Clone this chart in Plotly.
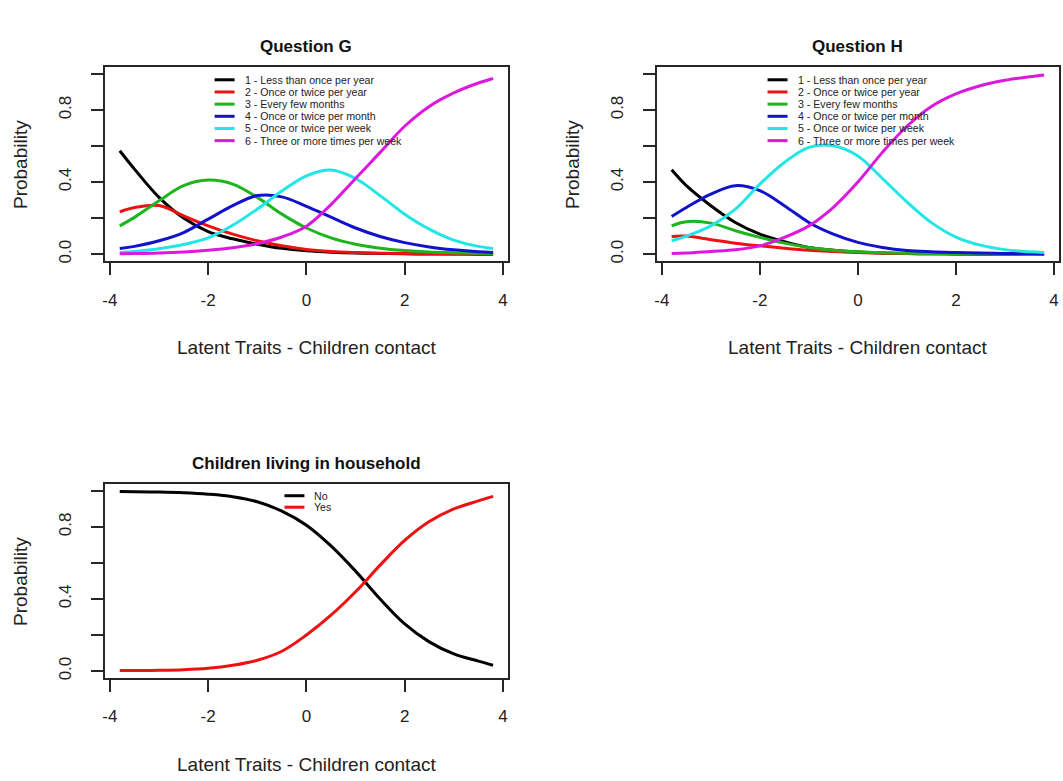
import plotly.graph_objects as go

W, H = 1063, 781

# Latent trait grid (x values)
theta = [-3.8, -3.5, -3.0, -2.5, -2.0, -1.5, -1.0, -0.5, 0.0, 0.5, 1.0, 1.5, 2.0, 2.5, 3.0, 3.5, 3.8]

freq_labels = ["1 - Less than once per year", "2 - Once or twice per year", "3 - Every few months",
               "4 - Once or twice per month", "5 - Once or twice per week", "6 - Three or more times per week"]
freq_colors = ["#000000", "#EE1111", "#1DB51D", "#1212CC", "#22E6E6", "#DD18DD"]

# Question G category probabilities
g_cat1 = [0.574, 0.472, 0.315, 0.200, 0.125, 0.085, 0.055, 0.032, 0.019, 0.011, 0.006, 0.004, 0.002, 0.001, 0.001, 0.000, 0.000]
g_cat2 = [0.235, 0.259, 0.270, 0.213, 0.157, 0.111, 0.074, 0.046, 0.026, 0.015, 0.009, 0.005, 0.003, 0.002, 0.001, 0.001, 0.000]
g_cat3 = [0.157, 0.204, 0.296, 0.380, 0.411, 0.389, 0.315, 0.222, 0.145, 0.090, 0.055, 0.033, 0.020, 0.012, 0.008, 0.005, 0.004]
g_cat4 = [0.031, 0.043, 0.074, 0.120, 0.194, 0.269, 0.325, 0.318, 0.265, 0.205, 0.145, 0.098, 0.064, 0.040, 0.024, 0.013, 0.009]
g_cat5 = [0.009, 0.015, 0.030, 0.053, 0.090, 0.160, 0.250, 0.350, 0.435, 0.467, 0.420, 0.325, 0.222, 0.139, 0.078, 0.043, 0.031]
g_cat6 = [0.002, 0.003, 0.006, 0.012, 0.022, 0.036, 0.058, 0.095, 0.155, 0.275, 0.420, 0.565, 0.710, 0.820, 0.895, 0.950, 0.975]

# Question H category probabilities
h_cat1 = [0.468, 0.380, 0.269, 0.176, 0.111, 0.069, 0.037, 0.022, 0.012, 0.006, 0.003, 0.002, 0.001, 0.000, 0.000, 0.000, 0.000]
h_cat2 = [0.098, 0.100, 0.080, 0.061, 0.046, 0.033, 0.022, 0.015, 0.009, 0.005, 0.003, 0.002, 0.001, 0.001, 0.000, 0.000, 0.000]
h_cat3 = [0.157, 0.180, 0.172, 0.130, 0.093, 0.061, 0.037, 0.022, 0.013, 0.008, 0.005, 0.003, 0.002, 0.001, 0.001, 0.000, 0.000]
h_cat4 = [0.209, 0.259, 0.333, 0.380, 0.352, 0.269, 0.176, 0.111, 0.065, 0.037, 0.020, 0.013, 0.009, 0.006, 0.004, 0.003, 0.002]
h_cat5 = [0.074, 0.100, 0.157, 0.250, 0.389, 0.509, 0.593, 0.602, 0.545, 0.420, 0.290, 0.175, 0.095, 0.050, 0.025, 0.013, 0.009]
h_cat6 = [0.004, 0.006, 0.015, 0.024, 0.046, 0.093, 0.157, 0.260, 0.400, 0.565, 0.710, 0.820, 0.890, 0.935, 0.965, 0.985, 0.995]

# Children living in household
hh_labels = ["No", "Yes"]
hh_colors = ["#000000", "#EE1111"]
hh_no = [0.997, 0.996, 0.994, 0.990, 0.982, 0.968, 0.940, 0.888, 0.810, 0.695, 0.555, 0.400, 0.262, 0.162, 0.095, 0.055, 0.032]
hh_yes = [0.003, 0.003, 0.004, 0.007, 0.015, 0.032, 0.060, 0.110, 0.200, 0.310, 0.440, 0.588, 0.725, 0.830, 0.900, 0.945, 0.970]

x_ticks = [-4, -2, 0, 2, 4]
y_ticks = [0.0, 0.2, 0.4, 0.6, 0.8, 1.0]
y_ticktext = ["0.0", "", "0.4", "", "0.8", ""]

titles = ["Question G", "Question H", "Children living in household"]
x_title = "Latent Traits - Children contact"
y_title = "Probability"

FONT = "Liberation Sans, Arial, sans-serif"
AX = "#262626"


def fx(p):
    return p / W


def fy(p):
    return 1 - p / H


# panel boxes in pixels: (left, right, top, bottom)
boxes = [(103, 507, 67, 262), (656, 1059, 67, 262), (103, 507, 485, 680)]

series = [
    ([g_cat1, g_cat2, g_cat3, g_cat4, g_cat5, g_cat6], freq_labels, freq_colors),
    ([h_cat1, h_cat2, h_cat3, h_cat4, h_cat5, h_cat6], freq_labels, freq_colors),
    ([hh_no, hh_yes], hh_labels, hh_colors),
]

fig = go.Figure()
layout = dict(width=W, height=H, margin=dict(l=0, r=0, t=0, b=0), paper_bgcolor="white",
              plot_bgcolor="white", showlegend=False, font=dict(family=FONT, color="#222"))

annotations = []
shapes = []

for i, (box, (ys, labels, cols)) in enumerate(zip(boxes, series)):
    n = "" if i == 0 else str(i + 1)
    xa, ya = "x" + n, "y" + n
    for yv, lab, c in zip(ys, labels, cols):
        fig.add_trace(go.Scatter(x=theta, y=yv, mode="lines", name=lab, xaxis=xa, yaxis=ya,
                                 line=dict(color=c, width=3, shape="spline", smoothing=1.0)))
    l, r, t, b = box
    layout["xaxis" + n] = dict(domain=[fx(l), fx(r)], range=[-4.104, 4.104], anchor=ya,
                               tickvals=x_ticks, ticktext=[str(v) for v in x_ticks],
                               showgrid=False, zeroline=False, showline=True, mirror=True,
                               linecolor=AX, linewidth=1.6, ticks="outside", ticklen=12,
                               tickwidth=1.6, tickcolor=AX, ticklabelstandoff=10,
                               tickfont=dict(size=17, color="#222"))
    layout["yaxis" + n] = dict(domain=[fy(b), fy(t)], range=[-0.04, 1.04], anchor=xa,
                               tickvals=y_ticks, ticktext=y_ticktext, tickangle=-90,
                               showgrid=False, zeroline=False, showline=True, mirror=True,
                               linecolor=AX, linewidth=1.6, ticks="outside", ticklen=12,
                               tickwidth=1.6, tickcolor=AX, ticklabelstandoff=13,
                               tickfont=dict(size=17, color="#222"))
    cx = (l + r) / 2
    cy = (t + b) / 2
    annotations.append(dict(text="<b>" + titles[i] + "</b>", x=fx(cx), y=fy(t - 20), xref="paper",
                            yref="paper", showarrow=False, xanchor="center", yanchor="middle",
                            font=dict(size=17, color="#111")))
    annotations.append(dict(text=x_title, x=fx(cx), y=fy(b + 86), xref="paper", yref="paper",
                            showarrow=False, xanchor="center", yanchor="middle",
                            font=dict(size=19, color="#222")))
    annotations.append(dict(text=y_title, x=fx(l - 85), y=fy(cy), xref="paper", yref="paper",
                            showarrow=False, xanchor="center", yanchor="middle", textangle=-90,
                            font=dict(size=19, color="#222")))

# manual legends (R style, no box)
legend_specs = [
    (freq_labels, freq_colors, 213, 80, 12.2),
    (freq_labels, freq_colors, 767, 80, 12.2),
    (hh_labels, hh_colors, 283, 497, 11.5),
]
for labels, cols, lx, ly, step in legend_specs:
    for k, (lab, c) in enumerate(zip(labels, cols)):
        yy = ly + k * step
        shapes.append(dict(type="line", xref="paper", yref="paper", x0=fx(lx), x1=fx(lx + 20),
                           y0=fy(yy), y1=fy(yy), line=dict(color=c, width=3)))
        annotations.append(dict(text=lab, x=fx(lx + 28), y=fy(yy), xref="paper", yref="paper",
                                showarrow=False, xanchor="left", yanchor="middle",
                                font=dict(size=10.6, color="#222")))

layout["annotations"] = annotations
layout["shapes"] = shapes
fig.update_layout(**layout)
fig.write_html("out.html", config={"displayModeBar": False},
               post_script="document.body.style.margin='0px';")
